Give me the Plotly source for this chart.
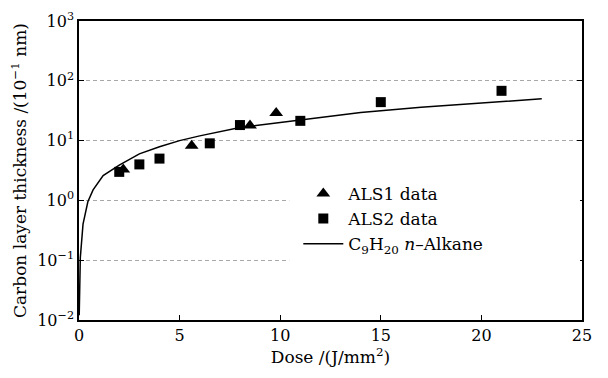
import plotly.graph_objects as go

# ALS1 data (triangles)
als1_dose = [2.2, 5.6, 8.5, 9.8]
als1_thick = [3.3, 8.2, 17.8, 29.0]

# ALS2 data (squares)
als2_dose = [2.0, 3.0, 4.0, 6.5, 8.0, 11.0, 15.0, 21.0]
als2_thick = [3.0, 4.0, 5.0, 9.0, 18.2, 21.4, 44.0, 68.0]

# C9H20 n-Alkane model curve
model_dose = [0.01, 0.03, 0.065, 0.2, 0.44, 0.7, 1.2, 2.0, 3.0, 4.0, 5.0, 6.0,
              8.0, 10.0, 12.0, 14.0, 17.0, 20.0, 23.0]
model_thick = [0.012, 0.05, 0.11, 0.4, 0.95, 1.5, 2.6, 3.9, 6.0, 7.9, 10.0, 12.0,
               16.5, 20.0, 24.5, 29.5, 36.0, 43.0, 50.0]

y_tickvals = [0.01, 0.1, 1, 10, 100, 1000]
y_ticktext = ["10<sup>−2</sup>", "10<sup>−1</sup>", "10<sup>0</sup>",
              "10<sup>1</sup>", "10<sup>2</sup>", "10<sup>3</sup>"]
x_tickvals = [0, 5, 10, 15, 20, 25]

FONT = "DejaVu Serif"

fig = go.Figure()
fig.add_trace(go.Scatter(x=als1_dose, y=als1_thick, mode="markers", name="ALS1 data",
                         marker=dict(symbol="triangle-up", size=12, color="black")))
fig.add_trace(go.Scatter(x=als2_dose, y=als2_thick, mode="markers", name="ALS2 data",
                         marker=dict(symbol="square", size=10, color="black")))
fig.add_trace(go.Scatter(x=model_dose, y=model_thick, mode="lines",
                         name="C<sub>9</sub>H<sub>20</sub> <i>n</i>–Alkane",
                         line=dict(color="black", width=1.5)))

# white box behind the legend hiding the grid lines (no data falls inside it)
fig.add_shape(type="rect", xref="paper", yref="paper", x0=0.418, x1=0.996, y0=0.16, y1=0.46,
              fillcolor="white", line=dict(width=0), layer="above")

fig.update_layout(
    width=608, height=378,
    margin=dict(l=79, r=26, t=10, b=58),
    paper_bgcolor="white", plot_bgcolor="white",
    font=dict(family=FONT, size=16, color="black"),
    showlegend=True,
    legend=dict(x=0.436, y=0.482, xanchor="left", yanchor="top",
                bgcolor="rgba(0,0,0,0)", borderwidth=0,
                font=dict(family=FONT, size=17), itemwidth=40, tracegroupgap=0),
)
fig.update_xaxes(range=[0, 25], tickvals=x_tickvals, ticks="inside", ticklen=5,
                 tickwidth=1.2, tickcolor="black", showline=True, linewidth=1.5,
                 linecolor="black", mirror=True, showgrid=False, zeroline=False,
                 title=dict(text="Dose /(J/mm<sup>2</sup>)", font=dict(size=17), standoff=4),
                 tickfont=dict(size=16))
fig.update_yaxes(type="log", range=[-2, 3], tickvals=y_tickvals, ticktext=y_ticktext,
                 ticks="inside", ticklen=5, tickwidth=1.2, tickcolor="black",
                 showline=True, linewidth=1.5, linecolor="black", mirror="ticks",
                 showgrid=True, gridcolor="#a8a8a8", griddash="4px,3px", gridwidth=1,
                 zeroline=False,
                 title=dict(text="Carbon layer thickness /(10<sup>−1</sup> nm)",
                            font=dict(size=17), standoff=6),
                 tickfont=dict(size=16))

fig.write_html("out.html")
